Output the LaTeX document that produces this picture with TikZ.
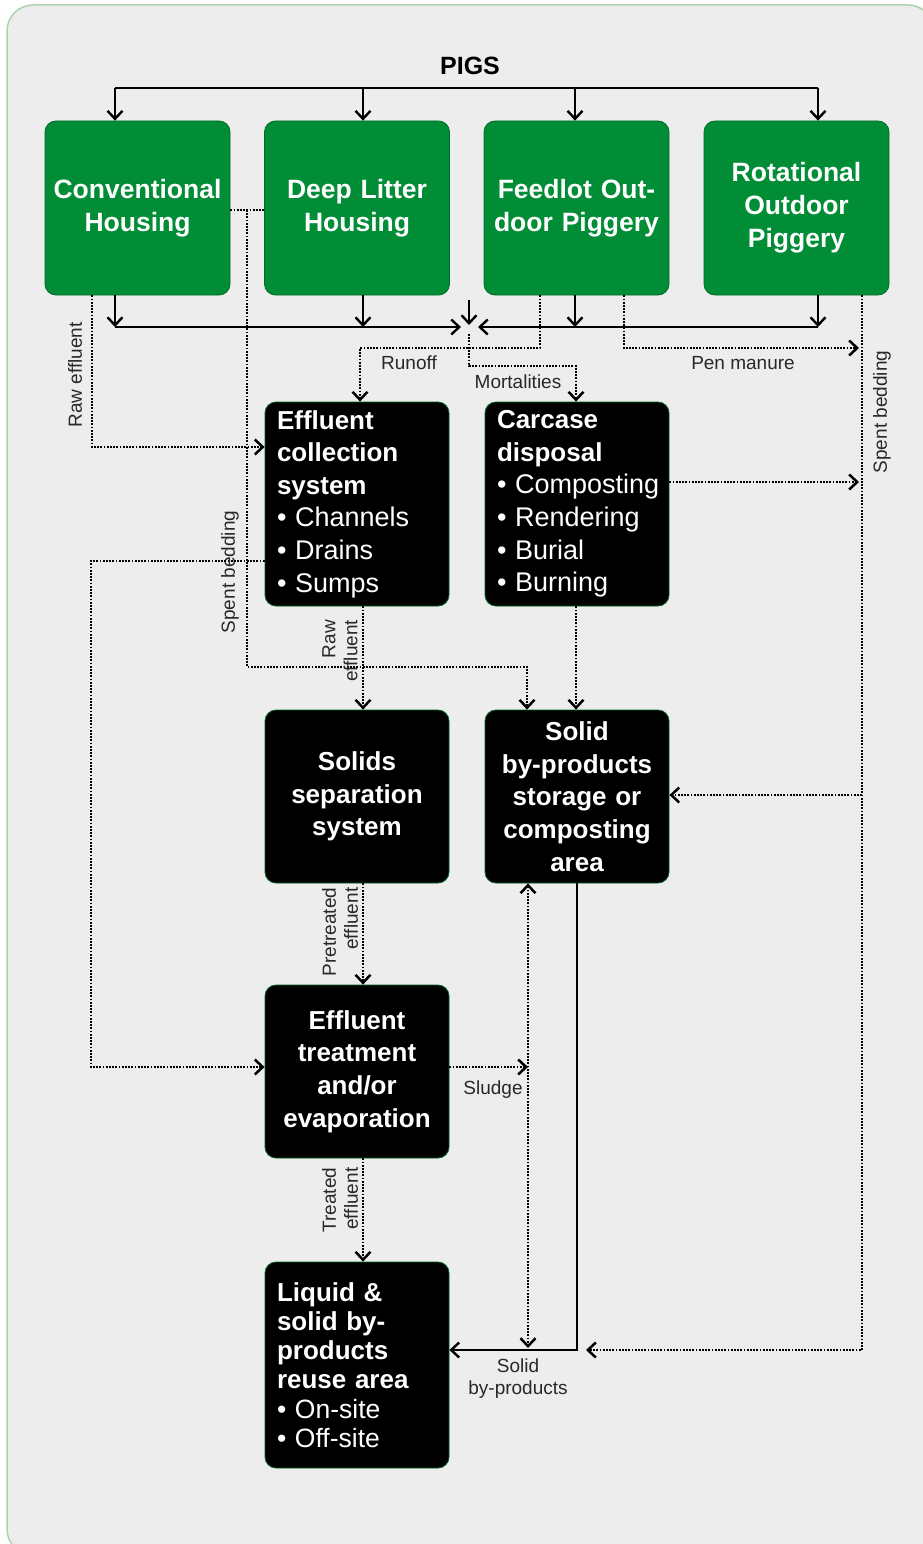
\documentclass[tikz,border=0pt]{standalone}
\usepackage{fontspec}
\setmainfont{Liberation Sans}
\usetikzlibrary{arrows.meta,calc}
\definecolor{bgc}{RGB}{236,237,236}
\definecolor{bdc}{RGB}{175,208,175}
\definecolor{pgreen}{RGB}{0,141,54}
\definecolor{lblc}{RGB}{40,40,40}
\newcommand{\bulfont}{\mdseries\fontsize{27}{32.6}\selectfont}
\begin{document}
\begin{tikzpicture}[x=1pt,y=-1pt,
  >={Straight Barb[length=8pt,width=15pt]},
  gbox/.style={draw=pgreen!75!black, line width=0.8pt, fill=pgreen, rounded corners=11pt,
    minimum width=185pt, minimum height=174pt, text=white, inner sep=0pt,
    text width=180pt, align=center, font=\bfseries\fontsize{26.5}{33}\selectfont},
  bbox/.style={draw=pgreen!70!black, line width=0.8pt, fill=black, rounded corners=11pt,
    minimum width=184pt, text=white, inner sep=0pt},
  bleft/.style={bbox, text width=160pt, align=left, font=\bfseries\fontsize{26}{32.6}\selectfont},
  bcent/.style={bbox, text width=180pt, align=center, font=\bfseries\fontsize{26}{32.7}\selectfont},
  sline/.style={line width=2.4pt, black},
  dline/.style={line width=2.5pt, black, dash pattern=on 1.8pt off 1.4pt},
  lab/.style={font=\fontsize{19}{22}\selectfont, text=lblc, inner sep=0pt}
]
\clip (0,0) rectangle (923,1544);
\path[use as bounding box] (0,0) rectangle (923,1544);
\draw[bdc, fill=bgc, line width=1.5pt, rounded corners=26pt] (7,5) rectangle (934,1555);

% title
\node[font=\bfseries\fontsize{25}{28}\selectfont] (pigs) at (470,66) {PIGS};

% green boxes
\node[gbox] (conv) at (137.5,208) {Conventional\\Housing};
\node[gbox] (deep) at (357,208) {Deep Litter\\Housing};
\node[gbox] (feed) at (576.5,208) {Feedlot Out-\\door Piggery};
\node[gbox] (rot) at (796.5,208) {Rotational\\Outdoor\\Piggery};

% black boxes
\node[bleft, minimum height=204pt] (coll) at (357,504)
  {Effluent\\collection\\system\\\bulfont \mbox{• Channels}\\\mbox{• Drains}\\\mbox{• Sumps}};
\node[bleft, minimum height=204pt] (carc) at (577,504)
  {Carcase\\disposal\\\bulfont \mbox{• Composting}\\\mbox{• Rendering}\\\mbox{• Burial}\\\mbox{• Burning}};
\node[bcent, minimum height=173pt] (sep) at (357,796.5)
  {Solids\\separation\\system};
\node[bcent, minimum height=173pt] (solid) at (577,796.5)
  {Solid\\by-products\\storage or\\composting\\area};
\node[bcent, minimum height=173pt] (treat) at (357,1071.5)
  {Effluent\\treatment\\and/or\\evaporation};
\node[bleft, minimum height=206pt, font=\bfseries\fontsize{26}{29.2}\selectfont] (reuse) at (357,1365)
  {Liquid \&\\solid by-\\products\\reuse area\\\mdseries\fontsize{26.5}{29.2}\selectfont \mbox{• On-site}\\\mbox{• Off-site}};

% top distribution
\coordinate (tl) at (115,88);
\coordinate (t2) at (363,88);
\coordinate (t3) at (575,88);
\coordinate (tr) at (818,88);
\draw[sline] (tl) -- (tr);
\draw[sline,->] (tl) -- (tl |- conv.north);
\draw[sline,->] (t2) -- (t2 |- deep.north);
\draw[sline,->] (t3) -- (t3 |- feed.north);
\draw[sline,->] (tr) -- (tr |- rot.north);

% bottom collection
\coordinate (bl) at (115,327);
\coordinate (b2) at (363,327);
\coordinate (b3) at (575,327);
\coordinate (br) at (818,327);
\coordinate (mL) at (461,327);
\coordinate (mR) at (478,327);
\coordinate (mT) at (469,300);
\coordinate (mB) at (469,325);
\draw[sline,->] (bl |- conv.south) -- (bl);
\draw[sline,->] (b2 |- deep.south) -- (b2);
\draw[sline,->] (b3 |- feed.south) -- (b3);
\draw[sline,->] (br |- rot.south) -- (br);
\draw[sline,->] (bl) -- (mL);
\draw[sline,->] (br) -- (mR);
\draw[sline,->] (mT) -- (mB);

% raw effluent (left)
\coordinate (re1) at (92,447);
\draw[dline,->] (re1 |- conv.south) -- (re1) -- (re1 -| coll.west);
\node[lab, rotate=90] (lraw) at (75,375) {Raw effluent};

% spent bedding (left)
\coordinate (sb1) at (247,210);
\coordinate (sb2) at (247,667);
\coordinate (sb3) at (527,667);
\draw[dline] (sb1 -| conv.east) -- (sb1 -| deep.west);
\draw[dline,->] (sb1) -- (sb2) -- (sb3) -- (sb3 |- solid.north);
\node[lab, rotate=90] (lsb) at (230,572) {Spent bedding};

% runoff
\coordinate (ro1) at (540,348);
\coordinate (ro2) at (360,348);
\draw[dline,->] (ro1 |- feed.south) -- (ro1) -- (ro2) -- (ro2 |- coll.north);
\node[lab] (lro) at (409,363) {Runoff};

% mortalities
\coordinate (mo0) at (469,334);
\coordinate (mo1) at (469,366);
\coordinate (mo2) at (576,366);
\draw[dline,->] (mo0) -- (mo1) -- (mo2) -- (mo2 |- carc.north);
\node[lab] (lmo) at (518,382) {Mortalities};

% pen manure
\coordinate (pm1) at (624,348);
\coordinate (pm2) at (859,348);
\draw[dline,->] (pm1 |- feed.south) -- (pm1) -- (pm2);
\node[lab] (lpm) at (743,363) {Pen manure};

% spent bedding (right)
\coordinate (rs1) at (862,1350);
\coordinate (rs2) at (586,1350);
\draw[dline,->] (rs1 |- rot.south) -- (rs1) -- (rs2);
\node[lab, rotate=90] (lrs) at (882,412) {Spent bedding};

% composting to right
\coordinate (cp) at (859,482);
\draw[dline,->] (cp -| carc.east) -- (cp);
\coordinate (ts) at (862,795);
\draw[dline,->] (ts) -- (ts -| solid.east);

% collection to treatment (left loop)
\coordinate (lc1) at (91,561);
\coordinate (lc2) at (91,1067);
\draw[dline,->] (lc1 -| coll.west) -- (lc1) -- (lc2) -- (lc2 -| treat.west);

% vertical chain
\coordinate (xa) at (363,0);
\coordinate (xb) at (576,0);
\draw[dline,->] (xa |- coll.south) -- (xa |- sep.north);
\node[lab, rotate=90, align=right] (lre2) at (340,651) {Raw\\effluent};
\draw[dline,->] (xb |- carc.south) -- (xb |- solid.north);
\draw[dline,->] (xa |- sep.south) -- (xa |- treat.north);
\node[lab, rotate=90, align=right] (lpe) at (340,932) {Pretreated\\effluent};
\draw[dline,->] (xa |- treat.south) -- (xa |- reuse.north);
\node[lab, rotate=90, align=right] (lte) at (340,1200) {Treated\\effluent};

% sludge
\coordinate (sl) at (528,1067);
\draw[dline,->] (sl -| treat.east) -- (sl);
\node[lab] (lsl) at (493,1090) {Sludge};
\coordinate (xc) at (528,0);
\coordinate (bd1) at (528,1348);
\draw[dline,<->] (xc |- solid.south) -- (bd1);

% solid by-products
\coordinate (sp1) at (577,1350);
\draw[sline,->] (sp1 |- solid.south) -- (sp1) -- (sp1 -| reuse.east);
\node[lab, align=center, font=\fontsize{19}{22}\selectfont] (lsp) at (518,1379) {Solid\\by-products};
\end{tikzpicture}
\end{document}
